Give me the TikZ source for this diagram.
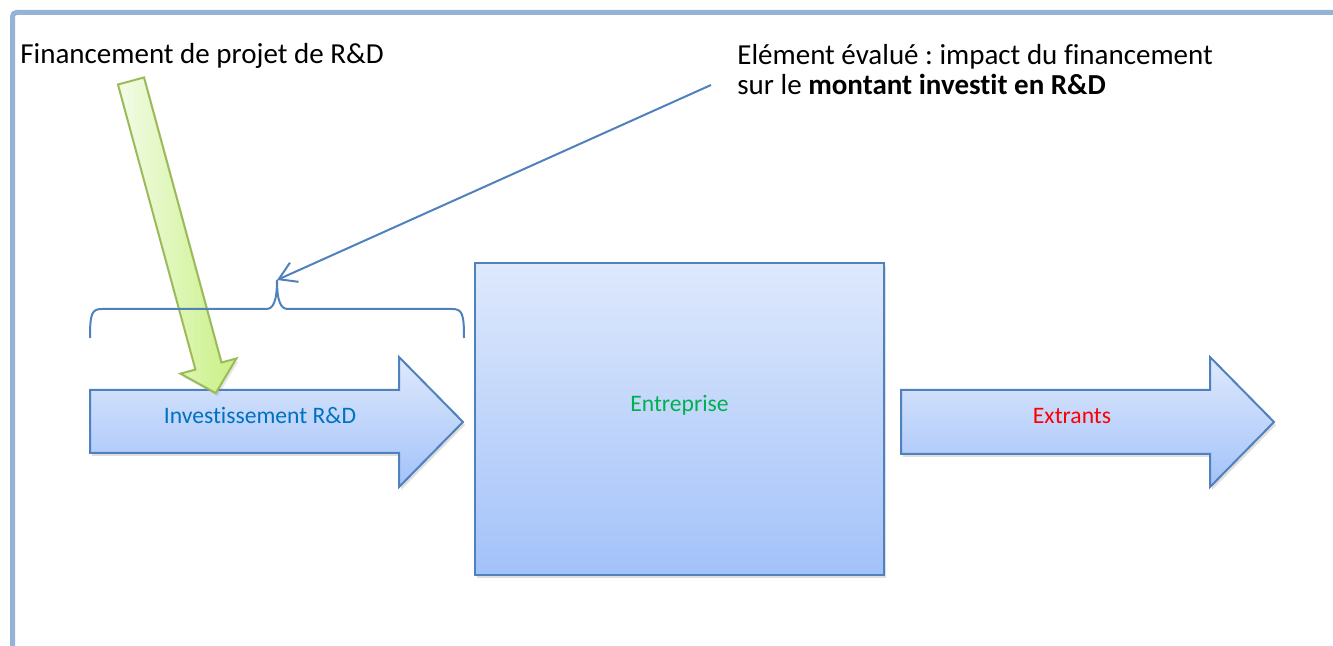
\documentclass[tikz,border=0pt]{standalone}
\usepackage{fontspec}
\setmainfont{Carlito}[Ligatures=NoCommon]
\usetikzlibrary{arrows.meta,shadows}
\definecolor{framecol}{RGB}{149,179,215}
\definecolor{edgeblue}{RGB}{79,129,189}
\definecolor{fillhi}{RGB}{222,233,252}
\definecolor{filllo}{RGB}{163,194,250}
\definecolor{greenedge}{RGB}{155,187,89}
\definecolor{greenhi}{RGB}{243,252,232}
\definecolor{greenlo}{RGB}{200,240,130}
\definecolor{investcol}{RGB}{0,112,192}
\definecolor{firmcol}{RGB}{0,176,80}
\frenchspacing

\begin{document}
\begin{tikzpicture}[x=0.5pt, y=-0.5pt,
  blockshape/.style={draw=edgeblue, line width=1pt, top color=fillhi, bottom color=filllo,
    drop shadow={opacity=0.25, shadow xshift=1pt, shadow yshift=-1.5pt}},
  bigtext/.style={font=\fontsize{14.5}{15}\selectfont, inner sep=0pt},
  smalltext/.style={font=\fontsize{11.8}{14}\selectfont, inner sep=0pt}]
\useasboundingbox (0,0) rectangle (1333,646);
% frame
\draw[framecol, line width=2.5pt, rounded corners=2pt] (12.5,646) -- (12.5,12.5) -- (1333,12.5);
% texts on top
\node[bigtext, anchor=base west] (fund) at (20,64) {Financement de projet de R\&D};
\node[bigtext, anchor=base west, align=left] (evalnote) at (737,95) {Elément évalué : impact du financement\\sur le \textbf{montant investit en R\&D}};
% input arrow
\path[blockshape] (90,390) -- (399,390) -- (399,357) -- (463,422) -- (399,487) -- (399,453) -- (90,453) -- cycle;
\node[smalltext, text=investcol, anchor=base] (invest) at (260,423) {Investissement R\&D};
% firm
\path[blockshape] (475,263) rectangle (884,575);
\node[smalltext, text=firmcol, anchor=base] (firm) at (679.5,412) {Entreprise};
% output arrow
\path[blockshape] (901,390) -- (1210,390) -- (1210,357) -- (1274,422) -- (1210,487) -- (1210,454) -- (901,454) -- cycle;
\node[smalltext, text=red, anchor=base] (output) at (1072,423) {Extrants};
% funding arrow
\begin{scope}[shift={(131,81)}, rotate=-74.8]
\path[draw=greenedge, line width=1pt, left color=greenhi, right color=greenlo,
  drop shadow={opacity=0.2, shadow xshift=1pt, shadow yshift=-1.5pt}]
  (0,13.5) -- (295.4,13.5) -- (295.4,29) -- (323.4,0) -- (295.4,-29) -- (295.4,-13.5) -- (0,-13.5) -- cycle;
\end{scope}
% brace over the input
\coordinate (bracetip) at (277,280);
\coordinate (notetail) at (711,85);
\draw[edgeblue, line width=1pt] (90,338) .. controls (90,313) and (92,309) .. (102,309) -- (266,309)
  .. controls (273,309) and (277,302) .. (bracetip) .. controls (277,302) and (281,309) .. (288,309)
  -- (452,309) .. controls (462,309) and (464,313) .. (464,338);
\draw[edgeblue, line width=1pt, -{Straight Barb[length=8.5pt, width=10.5pt]}] (notetail) -- (bracetip);
\end{tikzpicture}
\end{document}
